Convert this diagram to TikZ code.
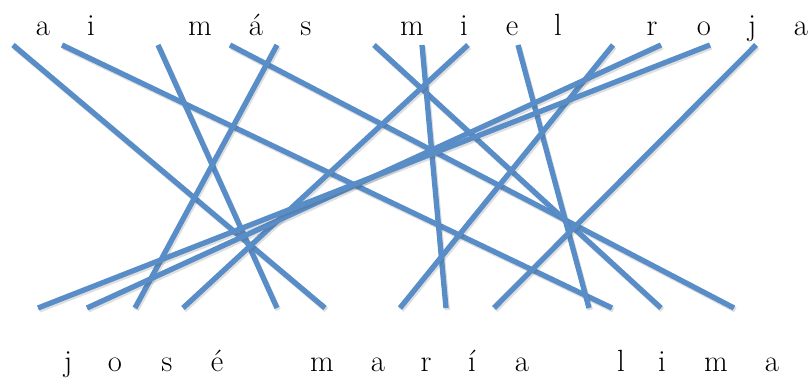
\documentclass[tikz,border=0pt]{standalone}
\usepackage{fontspec}
\usetikzlibrary{calc}
\definecolor{lineblue}{RGB}{88,141,200}
\tikzset{
  letter/.style={anchor=base, inner sep=0pt, font=\fontsize{23}{27}\selectfont},
  link/.style={draw=lineblue, line width=4pt,
    preaction={draw=black!70, opacity=0.18, line width=4pt, transform canvas={shift={(1pt,-1.5pt)}}}},
}

\begin{document}
\begin{tikzpicture}[x=0.75pt, y=-0.75pt]
\useasboundingbox (0,0) rectangle (808,381);

% --- top phrase: letter / x / end of its link ---
\foreach \i/\l/\x/\ex in {1/a/43/13, 2/i/91/62, 3/m/200/158, 4/á/256/230, 5/s/306/277,
    6/m/412/374, 7/i/464/422, 8/e/512/468, 9/l/558/518,
    10/r/652/613, 11/o/704/661, 12/j/752/710, 13/a/801/756}{
  \node[letter] (t\i) at (\x,36) {\l};
  \coordinate (tp\i) at (\ex,45);
}

% --- bottom phrase ---
\foreach \i/\l/\x/\ex in {1/j/68/38, 2/o/115/87, 3/s/167/135, 4/é/217/183,
    5/m/322/277, 6/a/378/325, 7/r/426/400, 8/í/472/446, 9/a/522/494,
    10/l/621/589, 11/i/662/612, 12/m/716/661, 13/a/772/734}{
  \node[letter] (b\i) at (\x,372) {\l};
  \coordinate (bp\i) at (\ex,308);
}

% --- links: top letter -> bottom letter ---
\foreach \s/\d in {1/6, 2/11, 3/5, 4/13, 5/3, 6/12, 7/8, 8/4, 9/10, 10/7, 11/2, 12/1, 13/9}{
  \draw[link] (tp\s) -- (bp\d);
}

\end{tikzpicture}
\end{document}
